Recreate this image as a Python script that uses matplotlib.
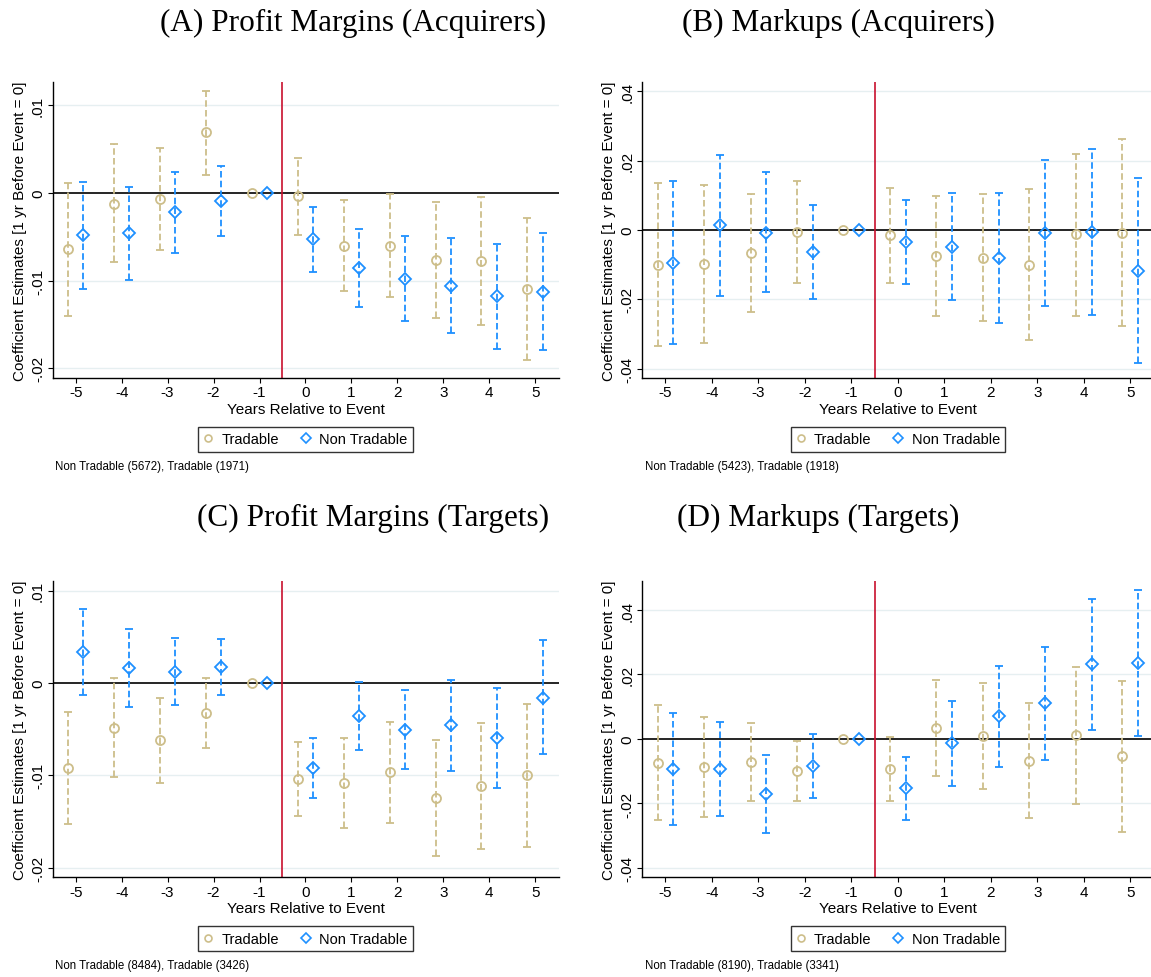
import numpy as np
import matplotlib
matplotlib.use("Agg")
import matplotlib.pyplot as plt
from matplotlib.lines import Line2D

plt.rcParams['font.family'] = ['Liberation Sans', 'DejaVu Sans']

nan = np.nan
years = np.arange(-5, 6)

# (A) Profit margins, acquirers
a_tr = [-0.0064, -0.0012, -0.0007, 0.0069, 0, -0.0004, -0.0060, -0.0060, -0.0076, -0.0078, -0.0109]
a_tr_lo = [-0.0140, -0.0079, -0.0065, 0.0021, nan, -0.0048, -0.0112, -0.0119, -0.0142, -0.0150, -0.0190]
a_tr_hi = [0.0011, 0.0056, 0.0051, 0.0116, nan, 0.0040, -0.0008, -0.0001, -0.0010, -0.0005, -0.0029]
a_nt = [-0.0048, -0.0046, -0.0022, -0.0009, 0, -0.0053, -0.0086, -0.0098, -0.0106, -0.0118, -0.0113]
a_nt_lo = [-0.0110, -0.0099, -0.0068, -0.0049, nan, -0.0090, -0.0130, -0.0146, -0.0160, -0.0178, -0.0179]
a_nt_hi = [0.0013, 0.0007, 0.0024, 0.0031, nan, -0.0016, -0.0041, -0.0049, -0.0051, -0.0058, -0.0046]

# (B) Markups, acquirers
b_tr = [-0.0101, -0.0098, -0.0067, -0.0007, 0, -0.0015, -0.0075, -0.0081, -0.0101, -0.0013, -0.0008]
b_tr_lo = [-0.0333, -0.0325, -0.0235, -0.0153, nan, -0.0153, -0.0247, -0.0262, -0.0317, -0.0247, -0.0277]
b_tr_hi = [0.0134, 0.0129, 0.0103, 0.0141, nan, 0.0121, 0.0097, 0.0104, 0.0117, 0.0220, 0.0261]
b_nt = [-0.0095, 0.0013, -0.0008, -0.0062, 0, -0.0035, -0.0048, -0.0081, -0.0009, -0.0007, -0.0117]
b_nt_lo = [-0.0329, -0.0190, -0.0180, -0.0199, nan, -0.0155, -0.0202, -0.0267, -0.0218, -0.0246, -0.0382]
b_nt_hi = [0.0142, 0.0215, 0.0166, 0.0073, nan, 0.0087, 0.0107, 0.0107, 0.0202, 0.0233, 0.0150]

# (C) Profit margins, targets
c_tr = [-0.0092, -0.0049, -0.0062, -0.0033, 0, -0.0104, -0.0108, -0.0096, -0.0124, -0.0111, -0.0100]
c_tr_lo = [-0.0153, -0.0102, -0.0108, -0.0070, nan, -0.0144, -0.0157, -0.0152, -0.0187, -0.0180, -0.0177]
c_tr_hi = [-0.0031, 0.0005, -0.0016, 0.0005, nan, -0.0064, -0.0060, -0.0042, -0.0062, -0.0043, -0.0023]
c_nt = [0.0033, 0.0016, 0.0012, 0.0017, 0, -0.0092, -0.0036, -0.0051, -0.0046, -0.0060, -0.0016]
c_nt_lo = [-0.0013, -0.0026, -0.0024, -0.0013, nan, -0.0124, -0.0073, -0.0093, -0.0095, -0.0114, -0.0077]
c_nt_hi = [0.0080, 0.0058, 0.0049, 0.0048, nan, -0.0060, 0.0001, -0.0008, 0.0003, -0.0005, 0.0046]

# (D) Markups, targets
d_tr = [-0.0073, -0.0088, -0.0071, -0.0100, 0, -0.0093, 0.0033, 0.0010, -0.0068, 0.0011, -0.0054]
d_tr_lo = [-0.0252, -0.0242, -0.0192, -0.0193, nan, -0.0192, -0.0116, -0.0155, -0.0246, -0.0203, -0.0288]
d_tr_hi = [0.0105, 0.0067, 0.0050, -0.0006, nan, 0.0005, 0.0182, 0.0175, 0.0112, 0.0224, 0.0181]
d_nt = [-0.0094, -0.0094, -0.0171, -0.0085, 0, -0.0153, -0.0012, 0.0070, 0.0111, 0.0232, 0.0235]
d_nt_lo = [-0.0268, -0.0240, -0.0292, -0.0182, nan, -0.0250, -0.0145, -0.0087, -0.0064, 0.0029, 0.0010]
d_nt_hi = [0.0081, 0.0054, -0.0049, 0.0016, nan, -0.0056, 0.0119, 0.0226, 0.0286, 0.0434, 0.0462]

titles = ["(A) Profit Margins (Acquirers)", "(B) Markups (Acquirers)",
          "(C) Profit Margins (Targets)", "(D) Markups (Targets)"]
notes = ["Non Tradable (5672), Tradable (1971)", "Non Tradable (5423), Tradable (1918)",
         "Non Tradable (8484), Tradable (3426)", "Non Tradable (8190), Tradable (3341)"]

pm_ticks = [-0.02, -0.01, 0, 0.01]
pm_labels = ["-.02", "-.01", "0", ".01"]
mk_ticks = [-0.04, -0.02, 0, 0.02, 0.04]
mk_labels = ["-.04", "-.02", "0", ".02", ".04"]

TAN = '#CDBE8A'
BLUE = '#1E90FF'
RED = '#C8102E'
DASH = (0, (3.6, 1.8))


def draw_series(ax, x, coef, lo, hi, color, marker, ms):
    x = np.asarray(x, float)
    lo = np.asarray(lo, float)
    hi = np.asarray(hi, float)
    ok = ~np.isnan(lo)
    ax.vlines(x[ok], lo[ok], hi[ok], colors=color, linestyles=DASH, linewidth=1.3, zorder=3)
    ax.plot(x[ok], lo[ok], ls='none', marker='_', ms=6, mew=1.3, color=color, zorder=3)
    ax.plot(x[ok], hi[ok], ls='none', marker='_', ms=6, mew=1.3, color=color, zorder=3)
    ax.plot(x, coef, ls='none', marker=marker, ms=ms, mfc='none', mec=color, mew=1.3, zorder=4)


def draw_panel(ax, tr, tr_lo, tr_hi, nt, nt_lo, nt_hi, ylim, yticks, ylabels, note):
    ax.set_xlim(-5.5, 5.51)
    ax.set_ylim(*ylim)
    for t in yticks:
        if t != 0:
            ax.axhline(t, color='#E6EFF1', lw=1.0, zorder=0)
    ax.axhline(0, color='black', lw=1.2, zorder=2)
    ax.axvline(-0.5, color=RED, lw=1.2, zorder=2)

    draw_series(ax, years - 0.17, tr, tr_lo, tr_hi, TAN, 'o', 6.5)
    draw_series(ax, years + 0.17, nt, nt_lo, nt_hi, BLUE, 'D', 6)

    ax.spines['top'].set_visible(False)
    ax.spines['right'].set_visible(False)
    ax.spines['left'].set_linewidth(1.0)
    ax.spines['bottom'].set_linewidth(1.0)
    ax.set_xticks(years)
    ax.set_xticklabels([str(v) for v in years], fontsize=11)
    ax.set_yticks(yticks)
    ax.set_yticklabels(ylabels, rotation=90, va='center', fontsize=11)
    ax.tick_params(axis='both', length=3.5, width=0.8, pad=2)
    ax.set_xlabel("Years Relative to Event", fontsize=11, labelpad=2)
    ax.set_ylabel("Coefficient Estimates [1 yr Before Event = 0]", fontsize=11, labelpad=3)

    handles = [Line2D([], [], ls='none', marker='o', ms=5, mfc='none', mec=TAN, mew=1.2),
               Line2D([], [], ls='none', marker='D', ms=5, mfc='none', mec=BLUE, mew=1.2)]
    leg = ax.legend(handles, ["Tradable", "Non Tradable"], loc='upper center',
                    bbox_to_anchor=(0.5, -0.166), ncol=2, frameon=True, fancybox=False,
                    edgecolor='black', fontsize=10.5, handlelength=0.6, handletextpad=0.6,
                    columnspacing=1.55, borderpad=0.38, borderaxespad=0)
    leg.get_frame().set_linewidth(1.0)
    ax.text(0.0045, -0.298, note, transform=ax.transAxes, fontsize=8.3, ha='left', va='center')


fig = plt.figure(figsize=(11.51, 9.78), dpi=100)
W, H = 1151.0, 978.0
# panel boxes in pixels: left, top, right, bottom (right panels run off the page edge)
boxes = [(52.7, 83.3, 558.7, 378.7), (642.2, 83.3, 1154.0, 378.7),
         (52.7, 582.3, 558.7, 878.0), (642.2, 582.3, 1154.0, 878.0)]
axes = [fig.add_axes([l / W, 1 - b / H, (r - l) / W, (b - t) / H]) for (l, t, r, b) in boxes]

draw_panel(axes[0], a_tr, a_tr_lo, a_tr_hi, a_nt, a_nt_lo, a_nt_hi, (-0.02106, 0.01262), pm_ticks, pm_labels, notes[0])
draw_panel(axes[1], b_tr, b_tr_lo, b_tr_hi, b_nt, b_nt_lo, b_nt_hi, (-0.04255, 0.04254), mk_ticks, mk_labels, notes[1])
draw_panel(axes[2], c_tr, c_tr_lo, c_tr_hi, c_nt, c_nt_lo, c_nt_hi, (-0.02099, 0.0110), pm_ticks, pm_labels, notes[2])
draw_panel(axes[3], d_tr, d_tr_lo, d_tr_hi, d_nt, d_nt_lo, d_nt_hi, (-0.0428, 0.0489), mk_ticks, mk_labels, notes[3])

# panel titles (serif, like the LaTeX captions)
title_pos = [(353, 31), (838, 31), (373, 526), (818, 526)]
for (x, y), t in zip(title_pos, titles):
    fig.text(x / W, 1 - y / H, t, ha='center', va='baseline', fontsize=22.5,
             family=['Liberation Serif', 'DejaVu Serif'])

fig.savefig("out.png", dpi=100)
